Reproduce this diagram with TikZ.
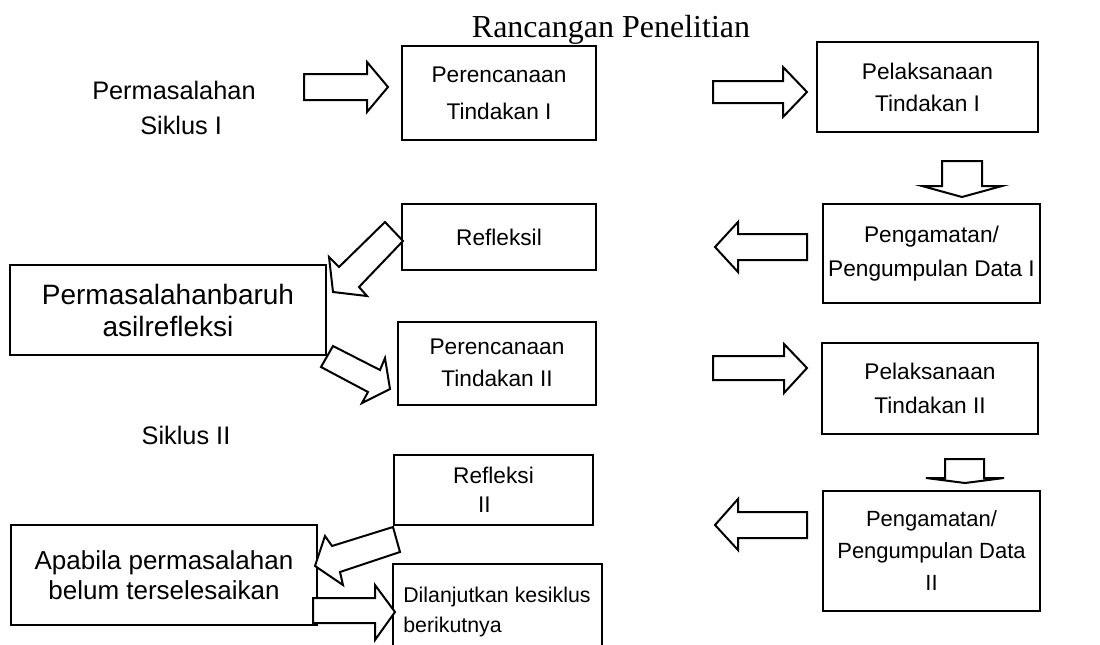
\documentclass[tikz,border=0pt]{standalone}
\usepackage{fontspec}
\setmainfont{Liberation Sans}
\newfontfamily\serifttl{Liberation Serif}
\begin{document}
\begin{tikzpicture}[x=0.75pt,y=-0.75pt,
  box/.style={draw=black, line width=1.5pt, rectangle, inner sep=0pt, align=center,
    font=\fontsize{17}{24}\selectfont},
  blk/.style={draw=black, line width=1.5pt, fill=white, line join=miter},
  lbl/.style={inner sep=0pt, align=center, font=\fontsize{19}{26}\selectfont}]
\clip (0,0) rectangle (1100,644);
\fill[white] (0,0) rectangle (1100,644);

% title and free labels
\node[inner sep=0pt, font=\serifttl\fontsize{24}{26}\selectfont] (title) at (611,30) {Rancangan Penelitian};
\node[lbl, align=left, anchor=west] (perm1) at (92,108) {Permasalahan\\\hspace*{36pt}Siklus I};
\node[lbl] (sik2) at (186,435) {Siklus II};

% boxes
\node[box, minimum width=145.5pt, minimum height=70.5pt, font=\fontsize{17}{27.5}\selectfont] (p1) at (499,93) {Perencanaan\\Tindakan I};
\node[box, minimum width=165.75pt, minimum height=67.5pt] (l1) at (927.5,87) {Pelaksanaan\\Tindakan I};
\node[box, minimum width=162.75pt, minimum height=74.25pt, font=\fontsize{17}{25.5}\selectfont] (g1) at (931.5,253.5) {Pengamatan/\\Pengumpulan Data I};
\node[box, minimum width=145.5pt, minimum height=49.5pt] (r1) at (499,237) {Refleksil};
\node[box, minimum width=237pt, minimum height=67.5pt, font=\fontsize{21}{24}\selectfont] (pb) at (168,310) {Permasalahanbaruh\\asilrefleksi};
\node[box, minimum width=148.5pt, minimum height=62.25pt] (p2) at (497,363) {Perencanaan\\Tindakan II};
\node[box, minimum width=162pt, minimum height=68.25pt, font=\fontsize{17}{26}\selectfont] (l2) at (930,388.5) {Pelaksanaan\\Tindakan II};
\node[box, minimum width=149.25pt, minimum height=52.5pt, font=\fontsize{17}{22}\selectfont] (r2) at (493.5,490) {Refleksi\\\hspace*{-0.8em}II};
\node[box, minimum width=162.75pt, minimum height=90pt, font=\fontsize{16.5}{24}\selectfont] (g2) at (931.5,551) {Pengamatan/\\Pengumpulan Data\\II};
\node[box, minimum width=229.5pt, minimum height=75pt, font=\fontsize{19.5}{22.5}\selectfont] (ap) at (164,575) {Apabila permasalahan\\belum terselesaikan};
\node[box, minimum width=156.75pt, minimum height=72pt, align=left, font=\fontsize{16}{22}\selectfont] (dl) at (497,612) {Dilanjutkan kesiklus\\berikutnya};

% block arrows
\draw[blk] (304,74) -- (367,74) -- (367,62) -- (388,87) -- (367,112) -- (367,100) -- (304,100) -- cycle;
\draw[blk] (713,81) -- (783,81) -- (783,67) -- (807,92) -- (783,117) -- (783,103) -- (713,103) -- cycle;
\draw[blk] (942,161) -- (982,161) -- (982,186) -- (1002,186) -- (962,197) -- (922,186) -- (942,186) -- cycle;
\draw[blk] (807,234) -- (738,234) -- (738,222) -- (715,247) -- (738,272) -- (738,260) -- (807,260) -- cycle;
\draw[blk] (385,222) -- (339,267) -- (329,257) -- (333,292) -- (367,296) -- (359,287) -- (403,241) -- cycle;
\draw[blk] (333,346) -- (380,370) -- (385,358) -- (390,389) -- (362,403) -- (368,392) -- (321,367) -- cycle;
\draw[blk] (713,356) -- (784,356) -- (784,344) -- (807,368) -- (784,393) -- (784,380) -- (713,380) -- cycle;
\draw[blk] (945,459) -- (984,459) -- (984,478) -- (1004,478) -- (965,483) -- (926,478) -- (945,478) -- cycle;
\draw[blk] (807,512) -- (738,512) -- (738,499) -- (715,525) -- (738,550) -- (738,538) -- (807,538) -- cycle;
\draw[blk] (393,527) -- (332,546) -- (325,536) -- (315,566) -- (343,585) -- (340,572) -- (400,552) -- cycle;
\draw[blk] (313,598) -- (375,598) -- (375,585) -- (395,612) -- (375,640) -- (375,623) -- (313,623) -- cycle;
\end{tikzpicture}
\end{document}
